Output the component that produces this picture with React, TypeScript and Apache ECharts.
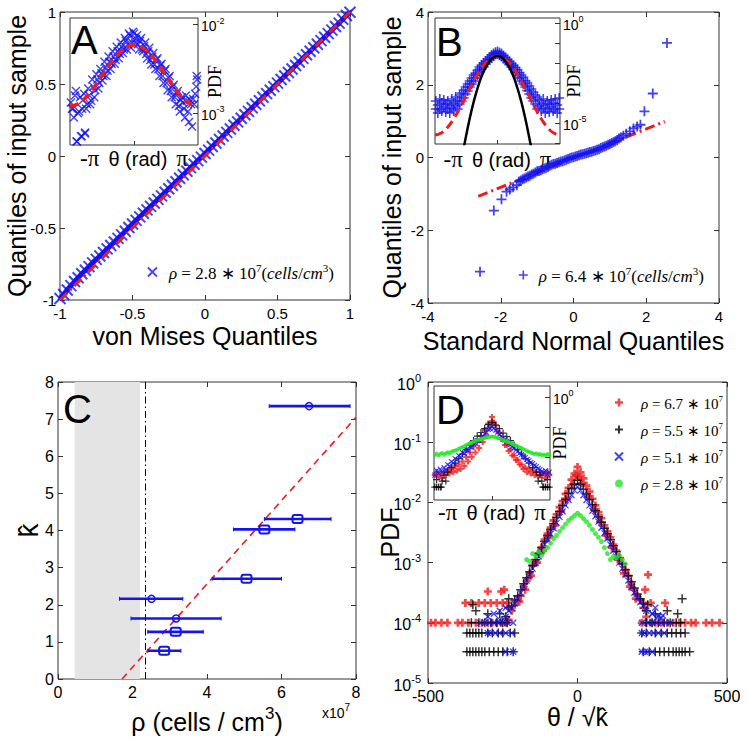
import React, { useEffect, useRef } from 'react';
import * as echarts from 'echarts';

const SANS = '"Liberation Sans", Arial, sans-serif';
const SERIF = '"Liberation Serif", "Times New Roman", serif';
const BLUE = '#1414f0';
const RED = '#ee1c1c';
const GREEN = '#22e622';
const BLACK = '#000000';
const FRAME = '#333333';

const SYM_X = 'path://M0,0L10,10M10,0L0,10';
const SYM_PLUS = 'path://M5,0L5,10M0,5L10,5';
const SYM_CROSS = 'path://M3.3,0H6.7V3.3H10V6.7H6.7V10H3.3V6.7H0V3.3H3.3Z';

// ---------------- Panel A: von Mises Q-Q plot ----------------
const qqA: number[][] = [
  [-1.0, -0.99], [-0.975, -0.962], [-0.95, -0.93], [-0.925, -0.9], [-0.9, -0.872], [-0.875, -0.845],
  [-0.85, -0.818], [-0.825, -0.793], [-0.8, -0.768], [-0.775, -0.742], [-0.75, -0.718], [-0.725, -0.694],
  [-0.7, -0.67], [-0.675, -0.645], [-0.65, -0.622], [-0.625, -0.597], [-0.6, -0.572], [-0.575, -0.548],
  [-0.55, -0.522], [-0.525, -0.497], [-0.5, -0.472], [-0.475, -0.447], [-0.45, -0.423], [-0.425, -0.398],
  [-0.4, -0.374], [-0.375, -0.35], [-0.35, -0.326], [-0.325, -0.301], [-0.3, -0.277], [-0.275, -0.252],
  [-0.25, -0.228], [-0.225, -0.203], [-0.2, -0.179], [-0.175, -0.155], [-0.15, -0.13], [-0.125, -0.106],
  [-0.1, -0.081], [-0.075, -0.057], [-0.05, -0.032], [-0.025, -0.008], [0.0, 0.017], [0.025, 0.041],
  [0.05, 0.066], [0.075, 0.09], [0.1, 0.115], [0.125, 0.139], [0.15, 0.164], [0.175, 0.188],
  [0.2, 0.213], [0.225, 0.237], [0.25, 0.262], [0.275, 0.286], [0.3, 0.31], [0.325, 0.335],
  [0.35, 0.359], [0.375, 0.384], [0.4, 0.408], [0.425, 0.433], [0.45, 0.457], [0.475, 0.482],
  [0.5, 0.506], [0.525, 0.531], [0.55, 0.555], [0.575, 0.58], [0.6, 0.604], [0.625, 0.629],
  [0.65, 0.653], [0.675, 0.678], [0.7, 0.703], [0.725, 0.727], [0.75, 0.752], [0.775, 0.776],
  [0.8, 0.801], [0.825, 0.825], [0.85, 0.85], [0.875, 0.874], [0.9, 0.899], [0.925, 0.923],
  [0.95, 0.95], [0.975, 0.976], [1.0, 0.998],
];
const refLineA: number[][] = [[-1, -1], [1, 1]];
const nameA = 'ρ = 2.8 ∗ 10^7 (cells/cm^3)';

// inset A: theta (rad) vs log10 PDF
const insetA_pts: number[][] = [
  [-3.1, -2.88], [-3.0, -2.95], [-2.9, -2.8], [-2.8, -3.32], [-2.7, -2.98], [-2.6, -3.26], [-2.5, -2.85],
  [-2.4, -3.22], [-2.3, -2.9], [-2.2, -2.8], [-2.1, -2.86], [-2.0, -2.7], [-1.9, -2.74], [-1.8, -2.62],
  [-1.7, -2.66], [-1.6, -2.55], [-1.5, -2.58], [-1.4, -2.48], [-1.3, -2.52], [-1.2, -2.42], [-1.1, -2.44],
  [-1.0, -2.36], [-0.9, -2.4], [-0.8, -2.3], [-0.7, -2.33], [-0.6, -2.25], [-0.5, -2.28], [-0.4, -2.18],
  [-0.3, -2.22], [-0.2, -2.12], [-0.1, -2.2], [0.0, -2.1], [0.1, -2.16], [0.2, -2.22], [0.3, -2.18],
  [0.4, -2.28], [0.5, -2.24], [0.6, -2.33], [0.7, -2.3], [0.8, -2.4], [0.9, -2.36], [1.0, -2.45],
  [1.1, -2.4], [1.2, -2.5], [1.3, -2.46], [1.4, -2.58], [1.5, -2.52], [1.6, -2.66], [1.7, -2.6],
  [1.8, -2.75], [1.9, -2.7], [2.0, -2.82], [2.1, -2.78], [2.2, -2.92], [2.3, -2.85], [2.4, -2.88],
  [2.5, -3.05], [2.6, -2.86], [2.7, -3.1], [2.8, -2.9], [2.9, -2.84], [3.0, -2.78], [3.1, -2.62],
  [-3.05, -2.95], [-2.95, -3.05], [-2.85, -2.75], [-2.75, -3.0], [-2.65, -2.82], [-2.55, -2.95],
  [-2.45, -2.78], [-2.35, -2.95], [-2.25, -2.72], [-2.15, -2.9], [-2.05, -2.62], [-1.95, -2.82],
  [-1.85, -2.56], [-1.75, -2.72], [-1.65, -2.5], [-1.55, -2.63], [-1.45, -2.42], [-1.35, -2.58],
  [-1.25, -2.36], [-1.15, -2.5], [-1.05, -2.3], [-0.95, -2.44], [-0.85, -2.25], [-0.75, -2.38],
  [-0.65, -2.2], [-0.55, -2.32], [-0.45, -2.15], [-0.35, -2.28], [-0.25, -2.1], [-0.15, -2.26],
  [-0.05, -2.08], [0.05, -2.2], [0.15, -2.12], [0.25, -2.28], [0.35, -2.15], [0.45, -2.3],
  [0.55, -2.2], [0.65, -2.38], [0.75, -2.26], [0.85, -2.45], [0.95, -2.32], [1.05, -2.5],
  [1.15, -2.38], [1.25, -2.58], [1.35, -2.44], [1.45, -2.66], [1.55, -2.5], [1.65, -2.74],
  [1.75, -2.58], [1.85, -2.82], [1.95, -2.68], [2.05, -2.9], [2.15, -2.75], [2.25, -2.98],
  [2.35, -2.82], [2.45, -2.95], [2.55, -2.8], [2.65, -2.98], [2.75, -2.85], [2.85, -3.15],
  [2.95, -2.9], [3.05, -2.7], [-2.82, -3.32], [-2.57, -3.26], [-2.41, -3.23], [3.08, -2.58],
];
const insetA_fit: number[][] = [
  [-3.1416, -2.92], [-2.8274, -2.903], [-2.5133, -2.854], [-2.1991, -2.778], [-1.885, -2.682],
  [-1.5708, -2.575], [-1.2566, -2.468], [-0.9425, -2.372], [-0.6283, -2.296], [-0.3142, -2.247],
  [0, -2.23], [0.3142, -2.247], [0.6283, -2.296], [0.9425, -2.372], [1.2566, -2.468],
  [1.5708, -2.575], [1.885, -2.682], [2.1991, -2.778], [2.5133, -2.854], [2.8274, -2.903], [3.1416, -2.92],
];

// ---------------- Panel B: normal Q-Q plot ----------------
const qqB: number[][] = [
  [-2.57, -3.14], [-2.19, -1.46], [-1.98, -1.15], [-1.84, -0.94], [-1.75, -0.88], [-1.66, -0.82], [-1.56, -0.76],
  [-1.5, -0.66], [-1.45, -0.63], [-1.4, -0.6], [-1.35, -0.58], [-1.3, -0.55], [-1.25, -0.52], [-1.2, -0.5],
  [-1.15, -0.47], [-1.1, -0.45], [-1.05, -0.41], [-1.0, -0.38], [-0.95, -0.37], [-0.9, -0.35], [-0.85, -0.32],
  [-0.8, -0.3], [-0.75, -0.28], [-0.7, -0.26], [-0.65, -0.23], [-0.6, -0.2], [-0.55, -0.18], [-0.5, -0.17],
  [-0.45, -0.15], [-0.4, -0.13], [-0.35, -0.11], [-0.3, -0.1], [-0.25, -0.08], [-0.2, -0.06], [-0.15, -0.04],
  [-0.1, -0.02], [-0.05, 0.0], [0, 0.01], [0.05, 0.03], [0.1, 0.04], [0.15, 0.06], [0.2, 0.08], [0.25, 0.09],
  [0.3, 0.1], [0.35, 0.12], [0.4, 0.13], [0.45, 0.15], [0.5, 0.16], [0.55, 0.18], [0.6, 0.19], [0.65, 0.21],
  [0.7, 0.23], [0.75, 0.26], [0.8, 0.28], [0.85, 0.3], [0.9, 0.32], [0.95, 0.35], [1.0, 0.37], [1.05, 0.4],
  [1.1, 0.42], [1.15, 0.45], [1.2, 0.48], [1.25, 0.52], [1.3, 0.55], [1.37, 0.6], [1.45, 0.65], [1.55, 0.72],
  [1.65, 0.8], [1.75, 0.85], [1.84, 0.9], [1.95, 1.27], [2.18, 1.76], [2.57, 3.15],
];
const refLineB: number[][] = [[-2.62, -1.07], [2.51, 0.99]];
const nameB = 'ρ = 6.4 ∗ 10^7 (cells/cm^3)';

const insetB_pts: number[][] = [
  [-3.1, -4.3], [-3.1, -3.9], [-3.0, -4.1], [-3.0, -4.5], [-2.9, -3.8], [-2.9, -4.3], [-2.8, -4.0], [-2.8, -4.4],
  [-2.7, -4.2], [-2.7, -3.85], [-2.6, -4.45], [-2.6, -4.05], [-2.5, -3.9], [-2.5, -4.3], [-2.4, -4.1], [-2.4, -4.5],
  [-2.3, -3.8], [-2.3, -4.25], [-2.2, -4.0], [-2.2, -4.4], [-2.1, -3.7], [-2.1, -4.15], [-2.0, -3.9], [-2.0, -4.3],
  [-1.9, -3.6], [-1.9, -4.05], [-1.8, -3.5], [-1.8, -3.9], [-1.7, -3.35], [-1.7, -3.75],
  [-1.6, -3.2], [-1.6, -3.55], [-1.5, -3.05], [-1.5, -3.4], [-1.4, -2.9], [-1.4, -3.2], [-1.3, -2.75], [-1.3, -3.05],
  [-1.2, -2.6], [-1.2, -2.9], [-1.1, -2.5], [-1.1, -2.75], [-1.0, -2.35], [-1.0, -2.6], [-0.9, -2.2], [-0.9, -2.45],
  [-0.8, -2.1], [-0.8, -2.3], [-0.7, -2.0], [-0.7, -2.2], [-0.6, -1.9], [-0.6, -2.05], [-0.5, -1.8], [-0.5, -1.95],
  [-0.4, -1.7], [-0.4, -1.85], [-0.3, -1.6], [-0.3, -1.75], [-0.2, -1.52], [-0.2, -1.65], [-0.1, -1.46], [-0.1, -1.58],
  [0, -1.42], [0, -1.55], [0.1, -1.47], [0.1, -1.6], [0.2, -1.53], [0.2, -1.67], [0.3, -1.62], [0.3, -1.77],
  [0.4, -1.72], [0.4, -1.86], [0.5, -1.82], [0.5, -1.97], [0.6, -1.92], [0.6, -2.08], [0.7, -2.02], [0.7, -2.2],
  [0.8, -2.12], [0.8, -2.32], [0.9, -2.22], [0.9, -2.47], [1.0, -2.33], [1.0, -2.6], [1.1, -2.48], [1.1, -2.75],
  [1.2, -2.6], [1.2, -2.9], [1.3, -2.72], [1.3, -3.05], [1.4, -2.88], [1.4, -3.2], [1.5, -3.0], [1.5, -3.38],
  [1.6, -3.15], [1.6, -3.55], [1.7, -3.3], [1.7, -3.75], [1.8, -3.45], [1.8, -3.9], [1.9, -3.6], [1.9, -4.05],
  [2.0, -3.7], [2.0, -4.3], [2.1, -3.85], [2.1, -4.15], [2.2, -4.0], [2.2, -4.4], [2.3, -3.8], [2.3, -4.25],
  [2.4, -4.1], [2.4, -4.5], [2.5, -3.9], [2.5, -4.3], [2.6, -4.45], [2.6, -4.05], [2.7, -4.2], [2.7, -3.85],
  [2.8, -4.0], [2.8, -4.4], [2.9, -3.8], [2.9, -4.3], [3.0, -4.1], [3.0, -4.5], [3.1, -4.3], [3.1, -3.75],
];
const insetB_vonMises: number[][] = [
  [-3.1416, -5.6], [-2.8274, -5.503], [-2.5133, -5.223], [-2.1991, -4.786], [-1.885, -4.235],
  [-1.5708, -3.625], [-1.2566, -3.015], [-0.9425, -2.464], [-0.6283, -2.027], [-0.3142, -1.747],
  [0, -1.65], [0.3142, -1.747], [0.6283, -2.027], [0.9425, -2.464], [1.2566, -3.015],
  [1.5708, -3.625], [1.885, -4.235], [2.1991, -4.786], [2.5133, -5.223], [2.8274, -5.503], [3.1416, -5.6],
];
const insetB_gauss: number[][] = [
  [-1.7, -6.27], [-1.6, -5.75], [-1.4, -4.79], [-1.2, -3.95], [-1.0, -3.25], [-0.8, -2.67], [-0.6, -2.23],
  [-0.4, -1.91], [-0.2, -1.71], [0, -1.65], [0.2, -1.71], [0.4, -1.91], [0.6, -2.23], [0.8, -2.67],
  [1.0, -3.25], [1.2, -3.95], [1.4, -4.79], [1.6, -5.75], [1.7, -6.27],
];

// ---------------- Panel C: k-hat vs density (x in units of 10^7 cells/cm^3) ----------------
const rhoCenter = [6.74, 6.43, 5.54, 5.06, 2.51, 3.17, 3.16, 2.85];
const kHat = [7.35, 4.31, 4.03, 2.7, 2.16, 1.63, 1.27, 0.76];
const rhoLow = [5.67, 5.54, 4.71, 4.14, 1.65, 1.96, 2.41, 2.41];
const rhoHigh = [7.84, 7.33, 6.36, 6.0, 3.35, 4.38, 3.9, 3.3];
const markerShape = ['circle', 'square', 'square', 'square', 'circle', 'circle', 'square', 'square'];
const fitRho = [1.72, 8.0];
const fitK = [0, 7.05];
const excludedRho = [0.45, 2.2];
const thresholdRho = 2.35;

// ---------------- Panel D: PDF vs theta/sqrt(k) (log10 PDF values) ----------------
const dNames = ['ρ = 6.7 ∗ 10^7', 'ρ = 5.5 ∗ 10^7', 'ρ = 5.1 ∗ 10^7', 'ρ = 2.8 ∗ 10^7'];
const dRed: number[][] = [
  [-230, -3.95], [-220, -3.8], [-210, -3.7], [-200, -3.62], [-190, -3.55], [-180, -3.4], [-170, -3.3], [-160, -3.18],
  [-150, -3.05], [-140, -2.98], [-130, -2.85], [-120, -2.75], [-110, -2.62], [-100, -2.52], [-90, -2.42], [-80, -2.3],
  [-70, -2.2], [-60, -2.08], [-50, -1.98], [-40, -1.86], [-30, -1.76], [-20, -1.62], [-10, -1.52], [0, -1.41],
  [10, -1.5], [20, -1.6], [30, -1.72], [40, -1.82], [50, -1.94], [60, -2.05], [70, -2.16], [80, -2.26], [90, -2.38],
  [100, -2.48], [110, -2.58], [120, -2.7], [130, -2.8], [140, -2.92], [150, -3.02], [160, -3.12], [170, -3.22],
  [180, -3.35], [190, -3.45], [200, -3.55], [210, -3.62], [220, -3.75], [230, -3.9],
  [-195, -3.65], [-175, -3.45], [-155, -3.22], [-135, -3.0], [-115, -2.8], [-95, -2.58], [-75, -2.38], [-55, -2.15],
  [-35, -1.95], [-15, -1.7], [-5, -1.55], [5, -1.58], [15, -1.68], [35, -1.9], [55, -2.12], [75, -2.33], [95, -2.55],
  [115, -2.75], [135, -2.95], [155, -3.18], [175, -3.4], [195, -3.6],
  [-490, -4], [-475, -4], [-455, -4], [-435, -4], [-400, -4], [-385, -4], [-365, -4], [-340, -4], [-320, -4],
  [-300, -4], [-285, -4], [-270, -4], [-255, -4], [-240, -4],
  [-375, -3.67], [-355, -3.67], [-330, -3.67], [-310, -3.67], [-290, -3.67], [-270, -3.67], [-250, -3.67], [-235, -3.67],
  [-300, -3.48], [-255, -3.48], [-245, -3.45],
  [215, -4], [230, -4], [245, -4], [260, -4], [280, -4], [300, -4], [320, -4], [340, -4], [360, -4], [380, -4],
  [395, -4], [430, -4], [450, -4], [475, -4],
  [220, -3.67], [245, -3.67], [293, -3.67], [226, -3.45], [236, -3.2],
];
const dBlack: number[][] = [
  [-240, -3.9], [-230, -3.75], [-220, -3.72], [-210, -3.62], [-200, -3.55], [-190, -3.45], [-180, -3.35], [-170, -3.25],
  [-160, -3.15], [-150, -3.05], [-140, -2.95], [-130, -2.85], [-120, -2.75], [-110, -2.65], [-100, -2.55], [-90, -2.45],
  [-80, -2.35], [-70, -2.25], [-60, -2.15], [-50, -2.05], [-40, -1.95], [-30, -1.85], [-20, -1.77], [-10, -1.7],
  [0, -1.63], [10, -1.7], [20, -1.78], [30, -1.86], [40, -1.95], [50, -2.04], [60, -2.14], [70, -2.24], [80, -2.33],
  [90, -2.43], [100, -2.52], [110, -2.62], [120, -2.72], [130, -2.82], [140, -2.92], [150, -3.02], [160, -3.12],
  [170, -3.22], [180, -3.32], [190, -3.42], [200, -3.52], [210, -3.6], [220, -3.68], [230, -3.8],
  [-355, -4], [-330, -4], [-310, -4], [-290, -4], [-270, -4], [-250, -4], [-235, -4],
  [-370, -4.17], [-360, -4.17], [-350, -4.17], [-340, -4.17], [-330, -4.17], [-320, -4.17], [-300, -4.17],
  [-285, -4.17], [-265, -4.17], [-250, -4.17], [-225, -4.17], [-210, -4.17],
  [-370, -4.48], [-360, -4.48], [-350, -4.48], [-340, -4.48], [-330, -4.48], [-320, -4.48], [-310, -4.48],
  [-295, -4.48], [-280, -4.48], [-265, -4.48], [-250, -4.48], [-235, -4.48], [-215, -4.48],
  [-340, -3.8], [-350, -3.7], [-300, -3.85], [-260, -3.85], [-230, -3.6],
  [230, -4], [250, -4], [270, -4], [290, -4], [310, -4], [330, -4], [345, -4],
  [215, -4.17], [230, -4.17], [260, -4.17], [280, -4.17], [300, -4.17], [315, -4.17], [330, -4.17], [345, -4.17], [360, -4.17],
  [220, -4.48], [240, -4.48], [260, -4.48], [275, -4.48], [290, -4.48], [305, -4.48], [320, -4.48], [330, -4.48],
  [340, -4.48], [350, -4.48], [360, -4.48], [375, -4.48],
  [350, -3.6], [335, -3.85], [260, -3.85], [300, -3.8], [235, -3.7],
];
const dBlue: number[][] = [
  [-260, -3.95], [-240, -3.9], [-230, -3.8], [-220, -3.75], [-210, -3.68], [-200, -3.6], [-190, -3.5], [-180, -3.4],
  [-170, -3.3], [-160, -3.2], [-150, -3.1], [-140, -3.0], [-130, -2.9], [-120, -2.8], [-110, -2.7], [-100, -2.62],
  [-90, -2.52], [-80, -2.43], [-70, -2.34], [-60, -2.24], [-50, -2.15], [-40, -2.05], [-30, -1.96], [-20, -1.88],
  [-10, -1.8], [0, -1.74], [10, -1.8], [20, -1.88], [30, -1.96], [40, -2.05], [50, -2.14], [60, -2.23], [70, -2.32],
  [80, -2.42], [90, -2.51], [100, -2.6], [110, -2.7], [120, -2.8], [130, -2.9], [140, -3.0], [150, -3.1], [160, -3.2],
  [170, -3.3], [180, -3.4], [190, -3.5], [200, -3.58], [210, -3.66], [220, -3.72], [230, -3.8], [250, -3.85],
  [270, -3.88], [280, -3.92],
  [-325, -4], [-310, -4], [-295, -4], [-280, -4], [-265, -4], [-250, -4], [-235, -4], [-215, -4],
  [-300, -4.17], [-290, -4.17], [-275, -4.17], [-260, -4.17], [-240, -4.17], [-220, -4.17],
  [-240, -4.48], [-215, -4.48], [-300, -3.9], [-280, -3.85], [-260, -3.8], [-240, -3.75],
  [215, -4], [235, -4], [250, -4], [265, -4], [280, -4], [295, -4], [310, -4],
  [215, -4.17], [225, -4.17], [240, -4.17], [255, -4.17], [270, -4.17], [290, -4.17],
  [215, -4.48], [225, -4.48], [235, -4.48], [250, -4.48], [250, -3.85], [270, -3.9], [285, -3.88], [260, -3.75],
];
const dGreen: number[][] = [
  [-170, -2.95], [-160, -2.98], [-150, -2.85], [-140, -2.9], [-130, -2.82], [-120, -2.88], [-110, -2.8],
  [-100, -2.75], [-90, -2.68], [-80, -2.6], [-70, -2.55], [-60, -2.48], [-50, -2.42], [-40, -2.36], [-30, -2.3],
  [-20, -2.26], [-10, -2.22], [0, -2.18], [10, -2.22], [20, -2.27], [30, -2.32], [40, -2.38], [50, -2.45],
  [60, -2.52], [70, -2.58], [80, -2.65], [90, -2.75], [100, -2.85], [110, -2.95], [120, -2.9], [130, -2.92],
  [140, -2.88], [150, -2.95], [160, -3.02],
];

// inset D: theta (rad) vs log10 PDF
const insetD_red: number[][] = [
  [-3.1, -2.6], [-3.0, -2.5], [-2.9, -2.65], [-2.8, -2.55], [-2.7, -2.7], [-2.6, -2.5], [-2.5, -2.6], [-2.4, -2.45],
  [-2.3, -2.55], [-2.2, -2.4], [-2.1, -2.5], [-2.0, -2.3], [-1.9, -2.45], [-1.8, -2.25], [-1.7, -2.4], [-1.6, -2.15],
  [-1.5, -2.3], [-1.4, -2.0], [-1.3, -2.15], [-1.2, -1.85], [-1.1, -2.0], [-1.0, -1.65], [-0.9, -1.85], [-0.8, -1.5],
  [-0.7, -1.7], [-0.6, -1.3], [-0.5, -1.5], [-0.4, -1.1], [-0.3, -1.3], [-0.2, -0.88], [-0.1, -1.0], [0, -0.66],
  [0, -0.8], [0.1, -0.85], [0.2, -0.95], [0.3, -1.15], [0.4, -1.2], [0.5, -1.4], [0.6, -1.4], [0.7, -1.6],
  [0.8, -1.6], [0.9, -1.8], [1.0, -1.75], [1.1, -1.95], [1.2, -1.95], [1.3, -2.1], [1.4, -2.1], [1.5, -2.25],
  [1.6, -2.25], [1.7, -2.4], [1.8, -2.35], [1.9, -2.5], [2.0, -2.4], [2.1, -2.55], [2.2, -2.45], [2.3, -2.6],
  [2.4, -2.5], [2.5, -2.65], [2.6, -2.5], [2.7, -2.6], [2.8, -2.55], [2.9, -2.7], [3.0, -2.5], [3.1, -2.6],
];
const insetD_black: number[][] = [
  [-3.1, -3.0], [-3.0, -3.0], [-2.9, -3.0], [-2.8, -3.0], [-2.75, -3.0], [-3.0, -2.75], [-2.7, -2.8], [-2.5, -2.8],
  [-2.6, -2.6], [-2.4, -2.5], [-2.2, -2.35], [-2.0, -2.2], [-1.8, -2.05], [-1.6, -1.9], [-1.4, -1.75], [-1.2, -1.6],
  [-1.0, -1.45], [-0.8, -1.3], [-0.6, -1.18], [-0.4, -1.05], [-0.2, -0.92], [0, -0.85], [0.2, -0.93], [0.4, -1.05],
  [0.6, -1.2], [0.8, -1.32], [1.0, -1.45], [1.2, -1.6], [1.4, -1.75], [1.6, -1.9], [1.8, -2.05], [2.0, -2.2],
  [2.2, -2.35], [2.4, -2.5], [2.6, -2.6], [2.5, -2.8], [2.7, -2.8], [2.75, -3.0], [2.8, -3.0], [2.9, -3.0],
  [3.0, -3.0], [3.1, -3.0], [3.0, -2.75],
];
const insetD_blue: number[][] = [
  [-3.1, -2.6], [-3.0, -2.45], [-2.9, -2.55], [-2.8, -2.4], [-2.7, -2.5], [-2.6, -2.35], [-2.5, -2.42], [-2.4, -2.25],
  [-2.3, -2.3], [-2.2, -2.15], [-2.1, -2.2], [-2.0, -2.05], [-1.9, -2.1], [-1.8, -1.95], [-1.7, -2.0], [-1.6, -1.85],
  [-1.5, -1.88], [-1.4, -1.75], [-1.3, -1.78], [-1.2, -1.65], [-1.1, -1.68], [-1.0, -1.55], [-0.9, -1.55], [-0.8, -1.45],
  [-0.7, -1.45], [-0.6, -1.35], [-0.5, -1.32], [-0.4, -1.22], [-0.3, -1.18], [-0.2, -1.08], [-0.1, -1.05], [0, -0.99],
  [0.1, -1.04], [0.2, -1.1], [0.3, -1.17], [0.4, -1.24], [0.5, -1.3], [0.6, -1.36], [0.7, -1.43], [0.8, -1.48],
  [0.9, -1.54], [1.0, -1.58], [1.1, -1.66], [1.2, -1.7], [1.3, -1.76], [1.4, -1.8], [1.5, -1.87], [1.6, -1.92],
  [1.7, -1.98], [1.8, -2.02], [1.9, -2.08], [2.0, -2.12], [2.1, -2.18], [2.2, -2.22], [2.3, -2.28], [2.4, -2.32],
  [2.5, -2.38], [2.6, -2.42], [2.7, -2.48], [2.8, -2.52], [2.9, -2.45], [3.0, -2.58], [3.1, -2.5],
];
const insetD_green: number[][] = [
  [-3.1, -1.93], [-3.0, -1.88], [-2.9, -1.95], [-2.8, -1.9], [-2.7, -1.86], [-2.6, -1.92], [-2.5, -1.87],
  [-2.4, -1.84], [-2.3, -1.88], [-2.2, -1.82], [-2.1, -1.8], [-2.0, -1.78], [-1.9, -1.76], [-1.8, -1.72],
  [-1.7, -1.7], [-1.6, -1.66], [-1.5, -1.64], [-1.4, -1.6], [-1.3, -1.57], [-1.2, -1.54], [-1.1, -1.52],
  [-1.0, -1.48], [-0.9, -1.46], [-0.8, -1.44], [-0.7, -1.42], [-0.6, -1.4], [-0.5, -1.38], [-0.4, -1.36],
  [-0.3, -1.34], [-0.2, -1.33], [-0.1, -1.32], [0, -1.31], [0.1, -1.32], [0.2, -1.34], [0.3, -1.36], [0.4, -1.38],
  [0.5, -1.4], [0.6, -1.43], [0.7, -1.45], [0.8, -1.48], [0.9, -1.5], [1.0, -1.53], [1.1, -1.56], [1.2, -1.58],
  [1.3, -1.62], [1.4, -1.65], [1.5, -1.68], [1.6, -1.7], [1.7, -1.74], [1.8, -1.76], [1.9, -1.8], [2.0, -1.82],
  [2.1, -1.85], [2.2, -1.87], [2.3, -1.9], [2.4, -1.88], [2.5, -1.92], [2.6, -1.9], [2.7, -1.94], [2.8, -1.91],
  [2.9, -1.95], [3.0, -1.9], [3.1, -1.93],
];

// log10 exponent -> value for log axes
const lg = (arr: number[][]) => arr.map(([x, e]) => [x, Math.pow(10, e)]);

// ---------------- helpers ----------------
const tick = (len = 5) => ({ show: true, inside: true, length: len, lineStyle: { color: FRAME, width: 1 } });

function valAxis(gridIndex: number, position: string, min: number, max: number, interval: number | undefined, label: any, extra: any = {}) {
  return {
    type: 'value', gridIndex, position, min, max, interval,
    nameMoveOverlap: false,
    axisLine: { show: false, onZero: false },
    axisTick: tick(),
    splitLine: { show: false },
    axisLabel: label ? { show: true, color: '#000', fontFamily: SANS, ...label } : { show: false },
    ...extra,
  };
}

const logLabelRich = (size: number) => ({
  b: { fontSize: size, fontFamily: SANS, color: '#000', verticalAlign: 'bottom' },
  s: { fontSize: Math.round(size * 0.66), fontFamily: SANS, color: '#000', verticalAlign: 'bottom', padding: [0, 0, Math.round(size * 0.55), 0] },
});
const logFormatter = (only?: number[]) => (v: number) => {
  const e = Math.log10(v);
  const r = Math.round(e);
  if (Math.abs(e - r) > 0.01) return '';
  if (only && only.indexOf(r) < 0) return '';
  return `{b|10}{s|${r}}`;
};

function logAxis(gridIndex: number, position: string, minExp: number, maxExp: number, label: any, extra: any = {}) {
  return {
    type: 'log', logBase: 10, gridIndex, position,
    min: Math.pow(10, minExp), max: Math.pow(10, maxExp),
    nameMoveOverlap: false,
    axisLine: { show: false, onZero: false },
    axisTick: tick(),
    splitLine: { show: false },
    minorTick: { show: false },
    axisLabel: label ? { show: true, showMinLabel: false, showMaxLabel: false, ...label } : { show: false },
    ...extra,
  };
}

const legendRich = (size: number, pad: number) => ({
  i0: { fontFamily: SERIF, fontStyle: 'italic', fontSize: size, color: '#000', verticalAlign: 'bottom', padding: [0, 0, 0, pad] },
  u: { fontFamily: SERIF, fontSize: size, color: '#000', verticalAlign: 'bottom' },
  i: { fontFamily: SERIF, fontStyle: 'italic', fontSize: size, color: '#000', verticalAlign: 'bottom' },
  s: { fontFamily: SERIF, fontSize: Math.round(size * 0.62), color: '#000', verticalAlign: 'bottom', padding: [0, 0, Math.round(size * 0.55), 0] },
});
const legendText = (name: string) => {
  const m = name.match(/ρ = ([\d.]+) ∗ 10\^(\d+)(.*)$/);
  if (!m) return name;
  let s = `{i0|ρ}{u| = ${m[1]} ∗ 10}{s|${m[2]}}`;
  if (m[3].indexOf('cells') >= 0) s += '{u|(}{i|cells}{u|/}{i|cm}{s|3}{u|)}';
  return s;
};

const insetXName = {
  name: '{p|-π}{t|θ (rad)}{p|π}',
  nameLocation: 'middle',
  nameTextStyle: {
    rich: {
      p: { fontFamily: SERIF, fontSize: 23, color: '#000' },
      t: { fontFamily: SANS, fontSize: 20, color: '#000', padding: [0, 9, 0, 9] },
    },
  },
};
const insetYName = {
  name: 'PDF', nameLocation: 'middle', nameRotate: 90,
  nameTextStyle: { fontFamily: SERIF, fontSize: 18, color: '#000' },
};

const gridBox = (left: number, top: number, width: number, height: number) => ({
  left, top, width, height, show: true, borderColor: FRAME, borderWidth: 1, backgroundColor: '#fff',
});

function buildOption() {
  const grid = [
    gridBox(60, 12, 290, 288),   // 0 A
    gridBox(428, 12, 291, 291),  // 1 B
    gridBox(58, 382, 298, 297),  // 2 C
    gridBox(428, 382, 299, 301), // 3 D
    gridBox(70, 18, 128, 127),   // 4 inset A
    gridBox(435, 18, 125, 126),  // 5 inset B
    gridBox(434, 386, 116, 114), // 6 inset D
  ];

  const titleStyle = { fontFamily: SANS, fontSize: 25, color: '#000' };
  const insetTick = { show: true, inside: true, length: 4, customValues: [0], lineStyle: { color: FRAME } };

  const xAxis = [
    valAxis(0, 'bottom', -1, 1, 0.5, { fontSize: 15, margin: 6 }, { name: 'von Mises Quantiles', nameLocation: 'middle', nameGap: 23, nameTextStyle: titleStyle }),
    valAxis(0, 'top', -1, 1, 0.5, null),
    valAxis(1, 'bottom', -4, 4, 2, { fontSize: 15, margin: 6 }, { name: 'Standard Normal Quantiles', nameLocation: 'middle', nameGap: 25, nameTextStyle: titleStyle }),
    valAxis(1, 'top', -4, 4, 2, null),
    valAxis(2, 'bottom', 0, 8, 2, { fontSize: 16, margin: 5 }, {
      name: '{a|ρ (cells / cm}{s|3}{a|)}', nameLocation: 'middle', nameGap: 26,
      nameTextStyle: { rich: {
        a: { fontFamily: SANS, fontSize: 25, color: '#000', verticalAlign: 'bottom' },
        s: { fontFamily: SANS, fontSize: 17, color: '#000', verticalAlign: 'bottom', padding: [0, 0, 12, 0] },
      } },
    }),
    valAxis(2, 'top', 0, 8, 2, null),
    valAxis(3, 'bottom', -500, 500, 500, { fontSize: 16, margin: 5, lineHeight: 16 },
      { name: 'θ / √k̂', nameLocation: 'middle', nameGap: 23, nameTextStyle: { ...titleStyle, lineHeight: 22 } }),
    valAxis(3, 'top', -500, 500, 500, null),
    { ...valAxis(4, 'bottom', -Math.PI, Math.PI, undefined, null), axisTick: insetTick, ...insetXName, nameGap: 2 },
    { ...valAxis(5, 'bottom', -Math.PI, Math.PI, undefined, null), axisTick: insetTick, ...insetXName, nameGap: 4 },
    { ...valAxis(6, 'bottom', -Math.PI, Math.PI, undefined, null), axisTick: insetTick, ...insetXName, nameGap: 1 },
  ];

  const yAxis = [
    valAxis(0, 'left', -1, 1, 0.5, { fontSize: 15, margin: 4 }, { name: 'Quantiles of input sample', nameLocation: 'middle', nameRotate: 90, nameGap: 31, nameTextStyle: titleStyle }),
    valAxis(0, 'right', -1, 1, 0.5, null),
    valAxis(1, 'left', -4, 4, 2, { fontSize: 15, margin: 4 }, { name: 'Quantiles of input sample', nameLocation: 'middle', nameRotate: 90, nameGap: 24, nameTextStyle: titleStyle }),
    valAxis(1, 'right', -4, 4, 2, null),
    valAxis(2, 'left', 0, 8, 1, { fontSize: 16, margin: 4 }, { name: 'k̂', nameLocation: 'middle', nameRotate: 90, nameGap: 16, nameTextStyle: { fontFamily: SANS, fontSize: 28, color: '#000' } }),
    valAxis(2, 'right', 0, 8, 1, null),
    logAxis(3, 'left', -5, 0, { formatter: logFormatter(), rich: logLabelRich(16), margin: 7, showMinLabel: true, showMaxLabel: true }, { name: 'PDF', nameLocation: 'middle', nameRotate: 90, nameGap: 26, nameTextStyle: titleStyle }),
    logAxis(3, 'right', -5, 0, null),
    logAxis(4, 'right', -3.36, -1.924, { formatter: logFormatter(), rich: logLabelRich(14), margin: 3 }, { ...insetYName, nameGap: 8 }),
    logAxis(5, 'right', -6.05, 0.25, { formatter: logFormatter([0, -5]), rich: logLabelRich(14), margin: 3 }, { ...insetYName, nameGap: 5 }),
    logAxis(6, 'right', -3.43, 0.37, { formatter: logFormatter([0]), rich: logLabelRich(14), margin: 3 }, { ...insetYName, nameGap: 1 }),
  ];

  const stroke = (color: string, w: number) => ({ color, borderColor: color, borderWidth: w });

  const errorBars = rhoCenter.map((c, i) => [c, kHat[i], rhoLow[i], rhoHigh[i], markerShape[i] === 'square' ? 1 : 0]);

  const series: any[] = [
    // A: thick band of 'x' samples (line underlay gives the solid look of the dense sample)
    { type: 'line', name: 'sample band A', xAxisIndex: 0, yAxisIndex: 0, data: qqA, showSymbol: false, z: 1,
      lineStyle: { color: BLUE, width: 5 } },
    { type: 'scatter', name: nameA, xAxisIndex: 0, yAxisIndex: 0, data: qqA, symbol: SYM_X, symbolSize: 11, z: 2, itemStyle: stroke(BLUE, 2) },
    { type: 'line', name: 'von Mises reference', xAxisIndex: 0, yAxisIndex: 0, data: refLineA, showSymbol: false, z: 3,
      lineStyle: { color: RED, width: 3, type: [10, 4, 2, 4] } },
    // B
    { type: 'scatter', name: nameB, xAxisIndex: 2, yAxisIndex: 2, data: qqB, symbol: SYM_PLUS, symbolSize: 10, z: 4, itemStyle: stroke(BLUE, 1.8) },
    { type: 'line', name: 'normal reference', xAxisIndex: 2, yAxisIndex: 2, data: refLineB, showSymbol: false, z: 3,
      lineStyle: { color: RED, width: 3, type: [10, 4, 2, 4] } },
    // C
    { type: 'line', name: 'linear fit', xAxisIndex: 4, yAxisIndex: 4, data: fitRho.map((r, i) => [r, fitK[i]]), showSymbol: false, z: 3,
      lineStyle: { color: RED, width: 1.6, type: [7, 5] },
      markArea: { silent: true, itemStyle: { color: '#e4e4e4' }, data: [[{ xAxis: excludedRho[0] }, { xAxis: excludedRho[1] }]] },
      markLine: { silent: true, symbol: ['none', 'none'], label: { show: false },
        lineStyle: { color: BLACK, width: 1, type: [7, 3, 1.5, 3] }, data: [{ xAxis: thresholdRho }] } },
    { type: 'custom', name: 'k estimates', xAxisIndex: 4, yAxisIndex: 4, data: errorBars, encode: { x: [0, 2, 3], y: 1 }, z: 4,
      renderItem: (_p: any, api: any) => {
        const y = api.value(1);
        const c = api.coord([api.value(0), y]);
        const lo = api.coord([api.value(2), y]);
        const hi = api.coord([api.value(3), y]);
        const sq = api.value(4) === 1;
        const children: any[] = [
          { type: 'line', shape: { x1: lo[0], y1: c[1], x2: hi[0], y2: c[1] }, style: { stroke: BLUE, lineWidth: 2.6 } },
          { type: 'line', shape: { x1: lo[0], y1: c[1] - 2, x2: lo[0], y2: c[1] + 2 }, style: { stroke: BLUE, lineWidth: 1 } },
          { type: 'line', shape: { x1: hi[0], y1: c[1] - 2, x2: hi[0], y2: c[1] + 2 }, style: { stroke: BLUE, lineWidth: 1 } },
          sq
            ? { type: 'rect', shape: { x: c[0] - 5, y: c[1] - 4, width: 10, height: 8, r: 2 }, style: { stroke: BLUE, fill: 'none', lineWidth: 2 } }
            : { type: 'circle', shape: { cx: c[0], cy: c[1], r: 3.5 }, style: { stroke: BLUE, fill: 'none', lineWidth: 1.5 } },
        ];
        return { type: 'group', children };
      } },
    // D main
    { type: 'scatter', name: dNames[0], xAxisIndex: 6, yAxisIndex: 6, data: lg(dRed), symbol: SYM_CROSS, symbolSize: 8, itemStyle: { color: RED } },
    { type: 'scatter', name: dNames[1], xAxisIndex: 6, yAxisIndex: 6, data: lg(dBlack), symbol: SYM_PLUS, symbolSize: 9, itemStyle: stroke(BLACK, 1.5) },
    { type: 'scatter', name: dNames[2], xAxisIndex: 6, yAxisIndex: 6, data: lg(dBlue), symbol: SYM_X, symbolSize: 6, itemStyle: stroke(BLUE, 1.3) },
    { type: 'scatter', name: dNames[3], xAxisIndex: 6, yAxisIndex: 6, data: lg(dGreen), symbol: 'circle', symbolSize: 5, itemStyle: { color: GREEN } },
    // inset A
    { type: 'scatter', name: 'inset A data', xAxisIndex: 8, yAxisIndex: 8, data: lg(insetA_pts), symbol: SYM_X, symbolSize: 8, itemStyle: stroke(BLUE, 1.4) },
    { type: 'line', name: 'inset A fit', xAxisIndex: 8, yAxisIndex: 8, data: lg(insetA_fit), smooth: true, showSymbol: false, z: 3,
      lineStyle: { color: RED, width: 3.5, type: [9, 5] } },
    // inset B
    { type: 'scatter', name: 'inset B data', xAxisIndex: 9, yAxisIndex: 9, data: lg(insetB_pts), symbol: SYM_PLUS, symbolSize: 10, itemStyle: stroke(BLUE, 1.6) },
    { type: 'line', name: 'inset B von Mises', xAxisIndex: 9, yAxisIndex: 9, data: lg(insetB_vonMises), smooth: true, showSymbol: false, z: 3,
      lineStyle: { color: RED, width: 3, type: [9, 5] } },
    { type: 'line', name: 'inset B Gaussian', xAxisIndex: 9, yAxisIndex: 9, data: lg(insetB_gauss), smooth: true, showSymbol: false, z: 4,
      lineStyle: { color: BLACK, width: 2.5 } },
    // inset D
    { type: 'scatter', name: 'inset ' + dNames[0], xAxisIndex: 10, yAxisIndex: 10, data: lg(insetD_red), symbol: SYM_CROSS, symbolSize: 6, itemStyle: { color: RED } },
    { type: 'scatter', name: 'inset ' + dNames[1], xAxisIndex: 10, yAxisIndex: 10, data: lg(insetD_black), symbol: SYM_PLUS, symbolSize: 7, itemStyle: stroke(BLACK, 1.2) },
    { type: 'scatter', name: 'inset ' + dNames[2], xAxisIndex: 10, yAxisIndex: 10, data: lg(insetD_blue), symbol: SYM_X, symbolSize: 5, itemStyle: stroke(BLUE, 1.1) },
    { type: 'scatter', name: 'inset ' + dNames[3], xAxisIndex: 10, yAxisIndex: 10, data: lg(insetD_green), symbol: 'circle', symbolSize: 4, itemStyle: { color: GREEN } },
  ];

  const legend = [
    { data: [nameA], left: 147, top: 262, padding: 0, itemWidth: 9, itemHeight: 9, formatter: legendText,
      itemStyle: { borderWidth: 1.8 }, textStyle: { rich: legendRich(17, 7) }, selectedMode: false },
    { data: [nameB], left: 518, top: 265, padding: 0, itemWidth: 9, itemHeight: 9, formatter: legendText,
      itemStyle: { borderWidth: 1.6 }, textStyle: { rich: legendRich(17, 6) }, selectedMode: false },
    { data: dNames, left: 614, top: 394, padding: 0, orient: 'vertical', itemGap: 10, itemWidth: 8, itemHeight: 8, formatter: legendText,
      textStyle: { rich: legendRich(15, 13) }, selectedMode: false },
  ];

  const letter = (t: string, x: number, y: number) => ({
    type: 'text', x, y, z: 100, silent: true,
    style: { text: t, fontFamily: SANS, fontSize: 40, fill: '#000', verticalAlign: 'middle', align: 'left' },
  });

  const graphic = [
    letter('A', 71, 40),
    letter('B', 436, 42),
    letter('C', 63, 409),
    letter('D', 436, 410),
    { type: 'text', x: 322, y: 702, z: 100, silent: true,
      style: { text: '{b|x10}{s|7}', fill: '#000', rich: {
        b: { fontFamily: SANS, fontSize: 14, verticalAlign: 'bottom' },
        s: { fontFamily: SANS, fontSize: 10, verticalAlign: 'bottom', padding: [0, 0, 8, 0] },
      } } },
  ];

  return { animation: false, backgroundColor: '#fff', grid, xAxis, yAxis, series, legend, graphic };
}

export default function App() {
  const ref = useRef<HTMLDivElement>(null);
  useEffect(() => {
    if (!ref.current) return;
    const chart = echarts.init(ref.current, undefined, { renderer: 'svg' });
    chart.setOption(buildOption() as any);
    return () => chart.dispose();
  }, []);
  return <div ref={ref} style={{ position: 'absolute', left: 0, top: 0, width: 747, height: 740 }} />;
}
